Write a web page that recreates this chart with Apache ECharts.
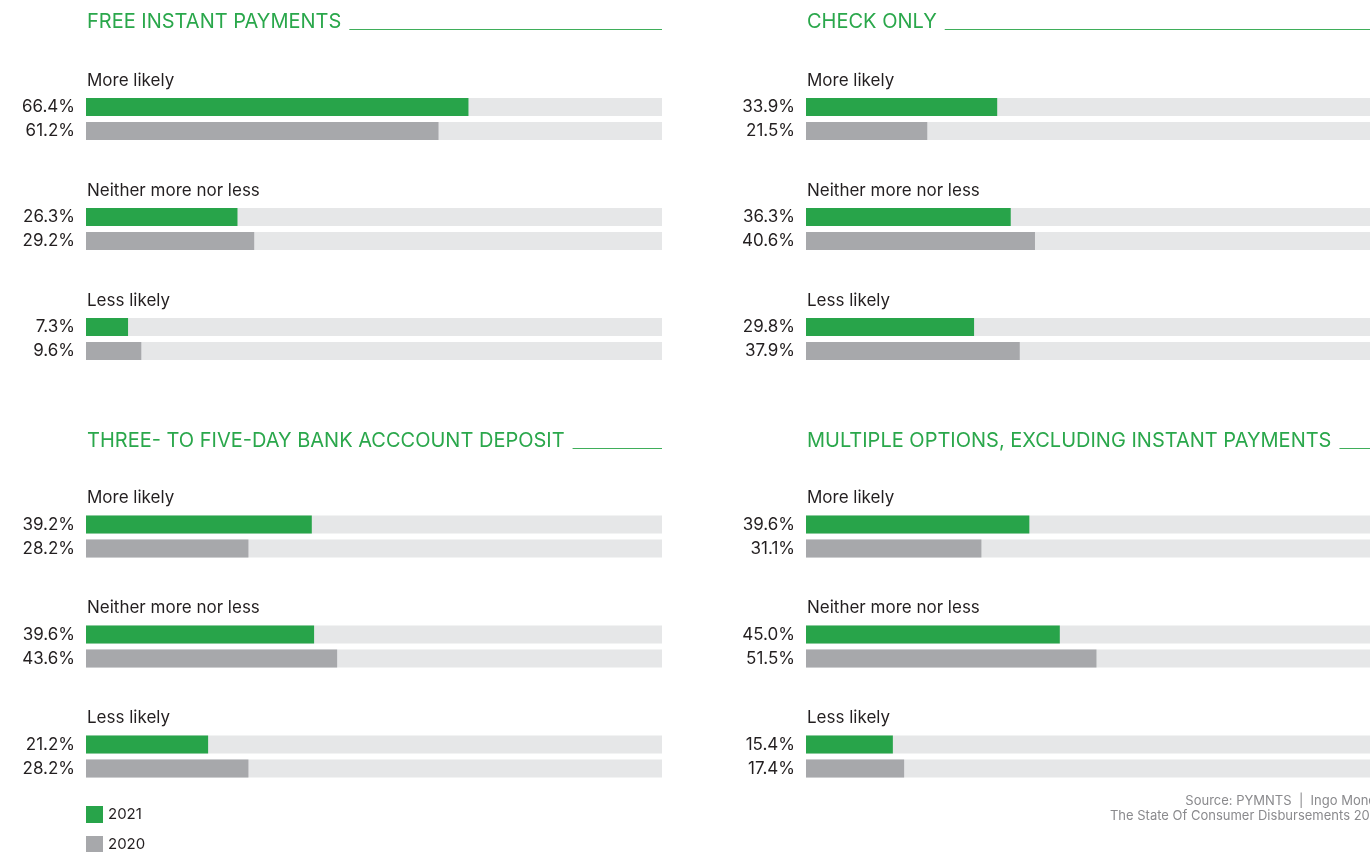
<!DOCTYPE html>
<html>
<head>
<meta charset="utf-8">
<script src="https://cdn.jsdelivr.net/npm/echarts@6/dist/echarts.min.js"></script>
<style>
    html, body { margin: 0; padding: 0; background: #fff; }
    #chart { width: 1370px; height: 852px; }
</style>
</head>
<body>
<div id="chart"></div>
<script>
    // answer groups, shared by all four panels
    var groups = ['More likely', 'Neither more nor less', 'Less likely'];
    var years = ['2021', '2020'];

    var panelTitles = [
        'FREE INSTANT PAYMENTS',
        'CHECK ONLY',
        'THREE- TO FIVE-DAY BANK ACCCOUNT DEPOSIT',
        'MULTIPLE OPTIONS, EXCLUDING INSTANT PAYMENTS'
    ];

    var freeInstant2021 = [66.4, 26.3, 7.3];
    var freeInstant2020 = [61.2, 29.2, 9.6];
    var checkOnly2021 = [33.9, 36.3, 29.8];
    var checkOnly2020 = [21.5, 40.6, 37.9];
    var threeToFive2021 = [39.2, 39.6, 21.2];
    var threeToFive2020 = [28.2, 43.6, 28.2];
    var multiple2021 = [39.6, 45.0, 15.4];
    var multiple2020 = [31.1, 51.5, 17.4];

    var sourceLines = ['Source: PYMNTS  |  Ingo Money', 'The State Of Consumer Disbursements 2021'];

    var GREEN = '#28a44a';
    var GRAY = '#a7a8ab';
    var TRACK = '#e6e7e8';
    var TEXT = '#231f20';
    var FONT = 'Inter, "Noto Sans", sans-serif';

    var panels = [
        { title: panelTitles[0], a: freeInstant2021, b: freeInstant2020, left: 86, top: 64, ty: 22 },
        { title: panelTitles[1], a: checkOnly2021, b: checkOnly2020, left: 806, top: 64, ty: 22 },
        { title: panelTitles[2], a: threeToFive2021, b: threeToFive2020, left: 86, top: 481.5, ty: 441 },
        { title: panelTitles[3], a: multiple2021, b: multiple2020, left: 806, top: 481.5, ty: 441 }
    ];
    var panelW = 576, panelH = 330;

    // measure title widths so the rule starts right after the words
    var ctx = document.createElement('canvas').getContext('2d');
    ctx.font = '20px ' + FONT;

    var grid = [], xAxis = [], yAxis = [], series = [], graphic = [];
    panels.forEach(function (p, i) {
        grid.push({ left: p.left, top: p.top, width: panelW, height: panelH });
        xAxis.push({ gridIndex: i, type: 'value', min: 0, max: 100, show: false });
        yAxis.push({
            gridIndex: i, type: 'category', data: groups, inverse: true,
            axisLine: { show: false }, axisTick: { show: false },
            axisLabel: {
                inside: true, margin: 1, interval: 0,
                verticalAlign: 'bottom', padding: [0, 0, 30, 0],
                fontSize: 17, color: TEXT, fontFamily: FONT
            }
        });
        [p.a, p.b].forEach(function (vals, k) {
            series.push({
                name: years[k], type: 'bar', xAxisIndex: i, yAxisIndex: i,
                data: vals, barWidth: 18, barGap: '33%',
                itemStyle: { color: k === 0 ? GREEN : GRAY },
                showBackground: true,
                backgroundStyle: { color: TRACK },
                label: {
                    show: true, position: 'left', distance: 11,
                    fontSize: 17, color: TEXT, fontFamily: FONT,
                    formatter: function (d) { return d.value.toFixed(1) + '%'; }
                },
                silent: true, animation: false
            });
        });
        var tw = ctx.measureText(p.title).width;
        graphic.push({
            type: 'text', x: p.left + 1, y: p.ty,
            style: { text: p.title, fontSize: 20, fill: '#2aa74b', fontFamily: FONT, verticalAlign: 'middle' }
        });
        graphic.push({
            type: 'line',
            shape: { x1: p.left + 1 + tw + 8, y1: p.ty + 7.5, x2: p.left + panelW, y2: p.ty + 7.5 },
            style: { stroke: '#3fae5a', lineWidth: 1 }
        });
    });

    graphic.push({
        type: 'text', x: 1383, y: 794,
        style: {
            text: sourceLines.join('\n'), align: 'right', lineHeight: 15,
            fontSize: 13, fill: '#8a8a8d', fontFamily: FONT
        }
    });

    // one legend block per year, stacked
    var legend = years.map(function (y, k) {
        return {
            data: [y], left: 86, top: 806 + k * 30,
            itemWidth: 17, itemHeight: 17, icon: 'rect', padding: 0, itemGap: 0,
            selectedMode: false,
            textStyle: { fontSize: 15, color: TEXT, fontFamily: FONT, padding: [6, 0, 0, 0] }
        };
    });

    var chart = echarts.init(document.getElementById('chart'));
    chart.setOption({
        animation: false,
        grid: grid, xAxis: xAxis, yAxis: yAxis, series: series, graphic: graphic,
        legend: legend
    });
</script>
</body>
</html>
